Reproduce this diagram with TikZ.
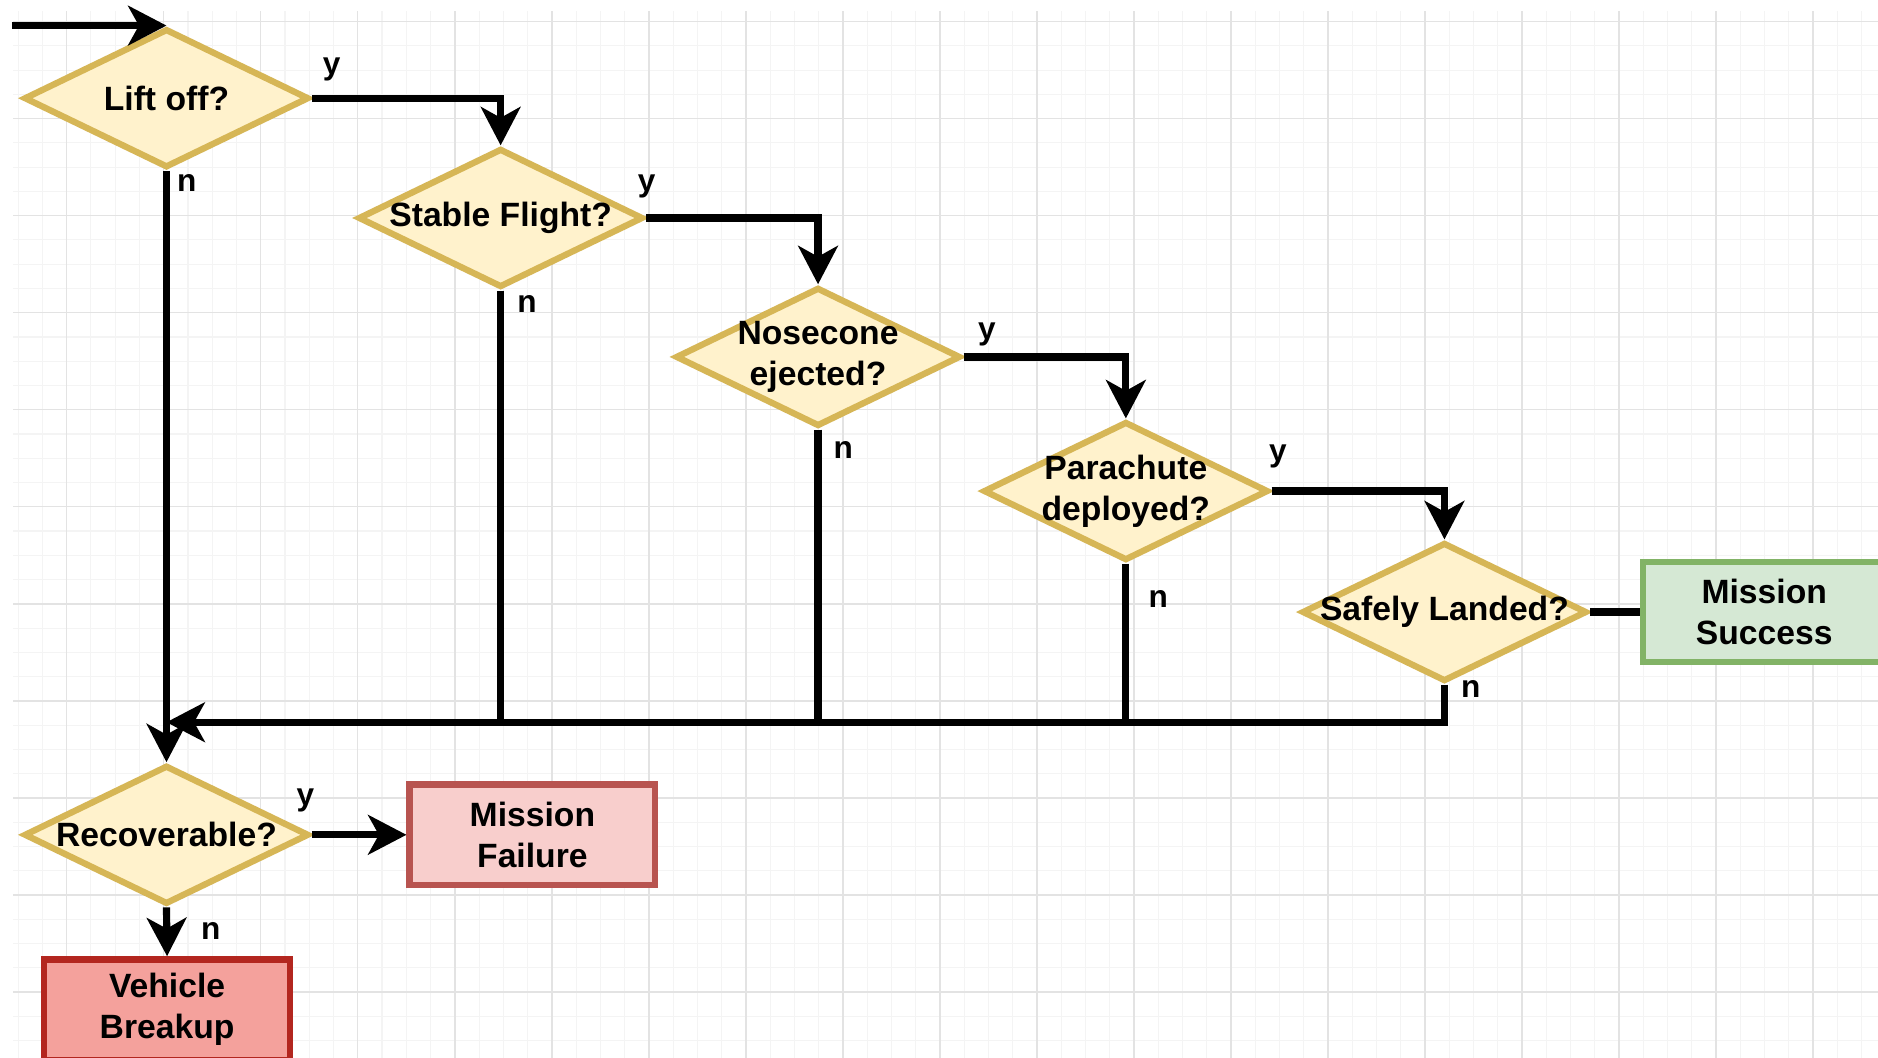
\documentclass[tikz,border=0pt]{standalone}
\usepackage{fontspec}
\setmainfont{Liberation Sans}
\usetikzlibrary{arrows.meta,positioning,shapes}
\definecolor{colordecfill}{HTML}{FFF2CC}
\definecolor{colordecline}{HTML}{D6B656}
\definecolor{colorokfill}{HTML}{D5E8D4}
\definecolor{colorokline}{HTML}{82B366}
\definecolor{colorfailfill}{HTML}{F8CECC}
\definecolor{colorfailline}{HTML}{B85450}
\definecolor{colorlossfill}{HTML}{F4A19C}
\definecolor{colorlossline}{HTML}{B3261F}
\definecolor{colorgridmajor}{HTML}{E3E3E3}
\definecolor{colorgridminor}{HTML}{F4F4F4}
\newcommand{\boxfont}{\bfseries\fontsize{16}{19.4}\selectfont}
\newcommand{\answerfont}{\bfseries\fontsize{15}{17}\selectfont}
\tikzstyle{every node}=[font=\boxfont]
\tikzstyle{decision}=[diamond, draw=colordecline, fill=colordecfill, line width=3pt, minimum width=4.76cm, minimum height=2.32cm, inner sep=0pt]
\tikzstyle{dectext}=[align=center, inner sep=0pt]
\tikzstyle{endbox}=[rectangle, line width=3pt, minimum width=4.1cm, minimum height=1.68cm, align=center, inner sep=0pt]
\tikzstyle{success}=[endbox, draw=colorokline, fill=colorokfill, minimum width=4.04cm, minimum height=1.66cm]
\tikzstyle{failure}=[endbox, draw=colorfailline, fill=colorfailfill]
\tikzstyle{breakup}=[endbox, draw=colorlossline, fill=colorlossfill]
\tikzstyle{answer}=[font=\answerfont, inner sep=0pt]
\tikzstyle{flow}=[draw=black, line width=3.4pt, -{Stealth[length=6.4mm, width=6.6mm, inset=1.8mm]}]
\tikzstyle{minorgrid}=[draw=colorgridminor, line width=0.5pt]
\tikzstyle{majorgrid}=[draw=colorgridmajor, line width=0.7pt]

\begin{document}
\begin{tikzpicture}[x=2cm, y=-2cm]

	\useasboundingbox (0,0) rectangle (15.68,8.83);
	\clip (0,0) rectangle (15.68,8.83);
	\fill[white] (0,0) rectangle (15.68,8.83);

	% grid
	\foreach \i in {-2,...,74} \draw[minorgrid] ({0.557+0.2025*\i},0.092) -- ({0.557+0.2025*\i},8.83);
	\foreach \j in {0,...,42} \draw[minorgrid] (0.109,{0.181+0.2025*\j}) -- (15.68,{0.181+0.2025*\j});
	\foreach \i in {0,...,18} \draw[majorgrid] ({0.557+0.81*\i},0.092) -- ({0.557+0.81*\i},8.83);
	\foreach \j in {0,...,10} \draw[majorgrid] (0.109,{0.181+0.81*\j}) -- (15.68,{0.181+0.81*\j});

	\node[decision, label={[dectext]center:Lift off?}] at (1.39, 0.82) (lift) {};

	\node[decision, label={[dectext]center:Stable Flight?}] at (4.18, 1.82) (stable) {};

	\node[decision, label={[dectext]center:{Nosecone\\ejected?}}] at (6.83, 2.98) (nose) {};

	\node[decision, label={[dectext]center:{Parachute\\deployed?}}] at (9.40, 4.10) (para) {};

	\node[decision, label={[dectext]center:Safely Landed?}] at (12.06, 5.11) (land) {};

	\node[decision, label={[dectext]center:Recoverable?}] at (1.39, 6.97) (recov) {};

	\node[success] at (14.73, 5.11) (ok) {Mission\\Success};
	\node[failure] at (4.445, 6.97) (fail) {Mission\\Failure};
	\node[breakup] at (1.395, 8.43) (loss) {Vehicle\\Breakup};

	\coordinate (start) at ([xshift=-2.58cm]lift.north);
	\coordinate (merge) at (1.39, 6.03);

	\draw[flow] (start) -- (lift.north);
	\draw[flow] (lift.east) -| (stable.north);
	\draw[flow] (stable.east) -| (nose.north);
	\draw[flow] (nose.east) -| (para.north);
	\draw[flow] (para.east) -| (land.north);
	\draw[flow, -] (land.east) -- (ok.west);

	\draw[flow] (lift.south) -- (recov.north);
	\draw[flow, -] (stable.south) -- (stable.south |- merge);
	\draw[flow, -] (nose.south) -- (nose.south |- merge);
	\draw[flow, -] (para.south) -- (para.south |- merge);
	\draw[flow] (land.south) |- (merge);

	\draw[flow] (recov.east) -- (fail.west);
	\draw[flow] (recov.south) -- (loss.north);

	\node[answer] at (2.77, 0.58) (liftY) {y};
	\node[answer] at (1.56, 1.53) (liftN) {n};
	\node[answer] at (5.40, 1.56) (stableY) {y};
	\node[answer] at (4.40, 2.54) (stableN) {n};
	\node[answer] at (8.24, 2.79) (noseY) {y};
	\node[answer] at (7.04, 3.76) (noseN) {n};
	\node[answer] at (10.67, 3.81) (paraY) {y};
	\node[answer] at (9.67, 5.00) (paraN) {n};
	\node[answer] at (12.28, 5.75) (landN) {n};
	\node[answer] at (2.55, 6.68) (recovY) {y};
	\node[answer] at (1.76, 7.77) (recovN) {n};

\end{tikzpicture}
\end{document}
